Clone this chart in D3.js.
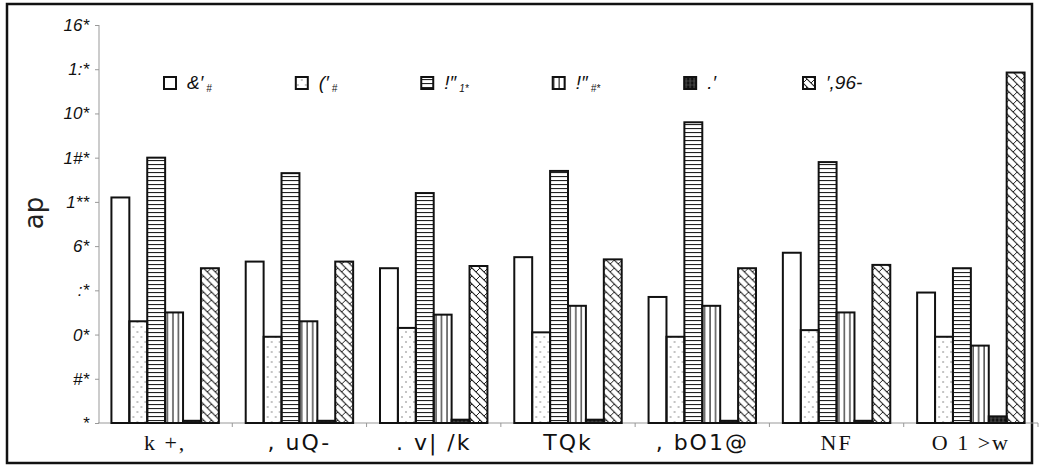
<!DOCTYPE html>
<html>
<head>
<meta charset="utf-8">
<script src="https://cdn.jsdelivr.net/npm/d3@7"></script>
<style>
  body { margin: 0; background: #fff; }
  svg { display: block; }
</style>
</head>
<body>
<div id="canvas"></div>
<script>
"use strict"

/* Data */
let categories = ["k +,", ", uQ-", ". v| /k", "TQk", ", bO1@", "NF", "O 1 >w"];
let seriesMain = ["&\u2032", "(\u2032", "!\u2033", "!\u2033", ".\u2032", "\u2032,96-"];
let seriesSub = ["#", "#", "1*", "#*", "", ""];
let s1 = [102, 73, 70, 75, 57, 77, 59];
let s2 = [46, 39, 43, 41, 39, 42, 39];
let s3 = [120, 113, 104, 114, 136, 118, 70];
let s4 = [50, 46, 49, 53, 53, 50, 35];
let s5 = [1, 1, 1.5, 1.5, 1, 1, 3];
let s6 = [70, 73, 71, 74, 70, 71.5, 158.5];
let yTickValues = [0, 20, 40, 60, 80, 100, 120, 140, 160, 180];
let yTickLabels = ["*", "#*", "0*", ":*", "6*", "1**", "1#*", "10*", "1:*", "16*"];
let yLabel = "ap";

let seriesValues = [s1, s2, s3, s4, s5, s6];

/* Drawing config */
let svgWidth = 1044;
let svgHeight = 468;
let plotLeft = 98;
let plotRight = 1038;
let plotTop = 25;
let plotBottom = 423;

let svg = d3.select("#canvas")
    .append("svg")
    .attr("width", svgWidth)
    .attr("height", svgHeight);

/* Patterns */
let defs = svg.append("defs");

let pDots = defs.append("pattern")
    .attr("id", "p-dots")
    .attr("patternUnits", "userSpaceOnUse")
    .attr("width", 8).attr("height", 10);
pDots.append("circle").attr("cx", 2).attr("cy", 2).attr("r", 0.8).attr("fill", "#777");
pDots.append("circle").attr("cx", 6).attr("cy", 7).attr("r", 0.8).attr("fill", "#777");

let pH = defs.append("pattern")
    .attr("id", "p-horiz")
    .attr("patternUnits", "userSpaceOnUse")
    .attr("width", 8).attr("height", 4);
pH.append("line").attr("x1", 0).attr("x2", 8).attr("y1", 0.5).attr("y2", 0.5)
    .attr("stroke", "#222").attr("stroke-width", 1.2);

let pV = defs.append("pattern")
    .attr("id", "p-vert")
    .attr("patternUnits", "userSpaceOnUse")
    .attr("width", 5.5).attr("height", 8);
pV.append("line").attr("x1", 1).attr("x2", 1).attr("y1", 0).attr("y2", 8)
    .attr("stroke", "#222").attr("stroke-width", 1.2);

let pDark = defs.append("pattern")
    .attr("id", "p-dark")
    .attr("patternUnits", "userSpaceOnUse")
    .attr("width", 4).attr("height", 4);
pDark.append("rect").attr("width", 4).attr("height", 4).attr("fill", "#111");
pDark.append("line").attr("x1", 2).attr("x2", 2).attr("y1", 0).attr("y2", 4)
    .attr("stroke", "#777").attr("stroke-width", 0.7);
pDark.append("line").attr("x1", 0).attr("x2", 4).attr("y1", 2).attr("y2", 2)
    .attr("stroke", "#555").attr("stroke-width", 0.6);

let pCross = defs.append("pattern")
    .attr("id", "p-cross")
    .attr("patternUnits", "userSpaceOnUse")
    .attr("width", 8).attr("height", 8);
pCross.append("path").attr("d", "M0,0L8,8M-2,6L2,10M6,-2L10,2")
    .attr("stroke", "#222").attr("stroke-width", 1.1).attr("fill", "none");
pCross.append("path").attr("d", "M0,8L4,4")
    .attr("stroke", "#222").attr("stroke-width", 1).attr("fill", "none");

let fills = ["#fff", "url(#p-dots)", "url(#p-horiz)", "url(#p-vert)", "url(#p-dark)", "url(#p-cross)"];

/* Outer frame */
svg.append("rect")
    .attr("x", 7).attr("y", 4)
    .attr("width", 1025).attr("height", 459)
    .attr("fill", "none")
    .attr("stroke", "#111")
    .attr("stroke-width", 2.5);

/* Scales */
let xScale = d3.scaleBand()
    .domain(categories)
    .range([plotLeft, plotRight])
    .paddingInner(0.2)
    .paddingOuter(0.1);

let xInner = d3.scaleBand()
    .domain(d3.range(seriesValues.length))
    .range([0, xScale.bandwidth()]);

let yScale = d3.scaleLinear()
    .domain([0, 180])
    .range([plotBottom, plotTop]);

/* Y axis */
let yAxis = svg.append("g")
    .attr("transform", "translate(" + (plotLeft + 1) + ",0)")
    .call(d3.axisLeft(yScale)
        .tickValues(yTickValues)
        .tickFormat(function(d, i) { return yTickLabels[i]; })
        .tickSize(4)
        .tickPadding(6));
yAxis.selectAll("path, line").attr("stroke", "#999");
yAxis.select(".domain").attr("d", "M0," + plotBottom + "V" + plotTop);
yAxis.selectAll("text")
    .attr("font-family", "Liberation Sans, Arial, sans-serif")
    .attr("font-style", "italic")
    .attr("font-size", 17)
    .attr("fill", "#111");

/* X axis */
let xAxis = svg.append("g")
    .attr("transform", "translate(0," + plotBottom + ")");
xAxis.append("line")
    .attr("x1", plotLeft).attr("x2", plotRight)
    .attr("stroke", "#999");
xAxis.selectAll(".sep")
    .data(categories.slice(1))
    .join("line")
    .attr("class", "sep")
    .attr("x1", function(d) { return xScale(d) - xScale.step() * xScale.paddingInner() / 2; })
    .attr("x2", function(d) { return xScale(d) - xScale.step() * xScale.paddingInner() / 2; })
    .attr("y1", 0).attr("y2", 4)
    .attr("stroke", "#999");
xAxis.append("line")
    .attr("x1", plotRight).attr("x2", plotRight)
    .attr("y1", 0).attr("y2", 4)
    .attr("stroke", "#999");

let serifCats = ["k +,", "NF", "O 1 >w"];
xAxis.selectAll(".cat")
    .data(categories)
    .join("text")
    .attr("class", "cat")
    .attr("x", function(d) { return xScale(d) + xScale.bandwidth() / 2; })
    .attr("y", 27)
    .attr("text-anchor", "middle")
    .attr("font-size", 22)
    .attr("font-family", function(d) {
        return serifCats.includes(d) ? "Liberation Serif, serif" : "DejaVu Sans, sans-serif";
    })
    .attr("letter-spacing", 2)
    .attr("fill", "#111")
    .text(function(d) { return d; });

/* Bars */
let groups = svg.selectAll(".grp")
    .data(categories)
    .join("g")
    .attr("class", "grp")
    .attr("transform", function(d) { return "translate(" + xScale(d) + ",0)"; });

groups.selectAll("rect")
    .data(function(d, ci) {
        return seriesValues.map(function(s, si) { return { si: si, v: s[ci] }; });
    })
    .join("rect")
    .attr("x", function(d) { return xInner(d.si); })
    .attr("width", xInner.bandwidth())
    .attr("y", function(d) { return yScale(d.v); })
    .attr("height", function(d) { return plotBottom - yScale(d.v); })
    .attr("fill", function(d) { return fills[d.si]; })
    .attr("stroke", "#111")
    .attr("stroke-width", 2);

/* Y label */
svg.append("text")
    .attr("transform", "rotate(-90)")
    .attr("x", -213)
    .attr("y", 35)
    .attr("text-anchor", "middle")
    .attr("dominant-baseline", "middle")
    .attr("font-family", "DejaVu Sans, sans-serif")
    .attr("font-size", 26)
    .attr("fill", "#222")
    .text(yLabel);

/* Legend: measure items, then spread them between first and last box */
let legend = svg.append("g").attr("class", "legend");
let legendStart = 164;
let legendEnd = 803;
let legendY = 83;
let items = seriesMain.map(function(name, i) {
    let item = legend.append("g");
    item.append("rect")
        .attr("x", 0).attr("y", -6)
        .attr("width", 12).attr("height", 12)
        .attr("fill", fills[i])
        .attr("stroke", "#111")
        .attr("stroke-width", 2);
    let t = item.append("text")
        .attr("x", 23)
        .attr("y", 6)
        .attr("font-family", "Liberation Sans, Arial, sans-serif")
        .attr("font-style", "italic")
        .attr("font-size", 19)
        .attr("fill", "#111")
        .text(name);
    if (seriesSub[i]) {
        t.append("tspan")
            .attr("dx", 3)
            .attr("dy", 3)
            .attr("font-size", 10)
            .text(seriesSub[i]);
    }
    return { g: item, w: 23 + t.node().getComputedTextLength() };
});
let usedW = d3.sum(items.slice(0, -1), function(d) { return d.w; });
let gap = (legendEnd - legendStart - usedW) / (items.length - 1);
let lx = legendStart;
items.forEach(function(it) {
    it.g.attr("transform", "translate(" + lx + "," + legendY + ")");
    lx += it.w + gap;
});
</script>
</body>
</html>
